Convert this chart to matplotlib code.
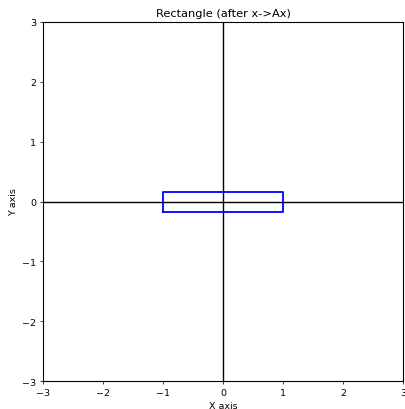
import matplotlib
matplotlib.use("Agg")
import matplotlib.pyplot as plt
import numpy as np

# Rectangle corners (after transformation x -> Ax)
rect_x = [-1.0, 1.0, 1.0, -1.0, -1.0]
rect_y = [-1/6, -1/6, 1/6, 1/6, -1/6]
ticks = [-3, -2, -1, 0, 1, 2, 3]

s = 0.68
fig = plt.figure(figsize=(4.06, 4.10), dpi=100)
ax = fig.add_axes([43/406, 27.7/410, 360/406, 359.5/410])
ax.axhline(0, color="black", linewidth=1.0)
ax.axvline(0, color="black", linewidth=1.0)
ax.plot(rect_x, rect_y, color="blue", linewidth=1.3)
ax.set_xlim(-3, 3)
ax.set_ylim(-3, 3)
ax.set_xticks(ticks)
ax.set_yticks(ticks)
for sp in ax.spines.values():
    sp.set_linewidth(0.8)
ax.tick_params(labelsize=10*s, length=3.5*s, width=0.8*s, pad=3.5*s)
ax.set_title("Rectangle (after x->Ax)", fontsize=12*s, pad=6*s)
ax.set_xlabel("X axis", fontsize=10*s, labelpad=4*s)
ax.set_ylabel("Y axis", fontsize=10*s, labelpad=4*s)
fig.savefig("out.png", dpi=100)
